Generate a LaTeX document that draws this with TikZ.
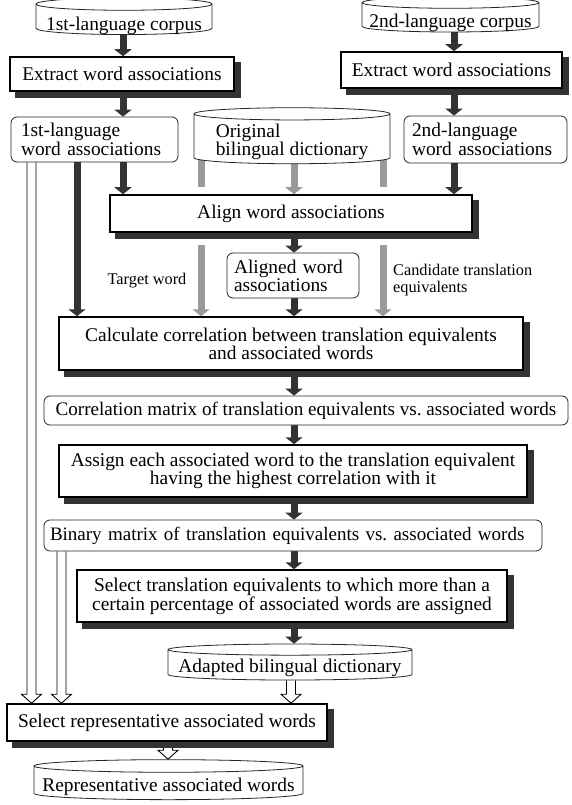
\documentclass[tikz,border=0pt]{standalone}
\usepackage{fontspec}
\setmainfont{Liberation Serif}
\usetikzlibrary{arrows.meta, positioning, shapes.geometric, calc, backgrounds}
\definecolor{fdark}{HTML}{333333}
\definecolor{fgray}{HTML}{9A9A9A}
\newcommand{\mainsz}{\fontsize{19.4pt}{16.5pt}\selectfont\frenchspacing}
\newcommand{\narrowsz}{\fontsize{19pt}{16.5pt}\selectfont\frenchspacing}
\newcommand{\labsz}{\fontsize{16.3pt}{17pt}\selectfont}
% text set lower inside a drum, keeping its size
\newcommand{\lowered}[2]{\raisebox{-#1}[\height][\depth]{#2}}
\tikzset{
  procbox/.style={draw=black, line width=1.5pt, fill=white, inner sep=0pt,
                  align=center, font=\mainsz},
  databox/.style={draw=black!85, line width=0.8pt, rounded corners=6pt, fill=white,
                  inner sep=0pt, align=left, font=\mainsz},
  storebox/.style={cylinder, shape border rotate=90, draw=black!85,
                   line width=0.8pt, fill=white, inner sep=0pt, font=\mainsz},
  lab/.style={inner sep=0pt, font=\labsz},
  darr/.style={-{Triangle[length=7pt, width=17pt]}, line width=7pt, fdark},
  garr/.style={-{Triangle[length=7pt, width=17pt]}, line width=7pt, fgray},
  gbar/.style={line width=7pt, fgray},
  hollow/.style={draw=black, fill=white, line width=0.9pt, line join=miter},
}
% hollow arrow between two points on one vertical line
\newcommand{\hollowarrow}[2]{%
  \draw[hollow] ($(#1)+(-4.5,0)$) -- ($(#2)+(-4.5,-9)$) -- ($(#2)+(-10,-9)$) -- (#2)
    -- ($(#2)+(10,-9)$) -- ($(#2)+(4.5,-9)$) -- ($(#1)+(4.5,0)$);}
% dark block behind a process box
\newcommand{\boxshadow}[1]{%
  \fill[fdark] ($(#1.south west)+(6pt,-6pt)$) rectangle ($(#1.north east)+(6pt,-6pt)$);}

\begin{document}
\begin{tikzpicture}[x=1pt, y=-1pt]
  \useasboundingbox (0,0) rectangle (571,805);

  % 1st language branch
  \node[storebox, aspect=0.08, minimum width=176pt, minimum height=35pt] (corpusA) at (124,19.5)
    {\lowered{6pt}{1st-language corpus}};
  \node[procbox, minimum width=224pt, minimum height=34pt] (extractA) at (122,74) {Extract word associations};
  \node[databox, minimum width=167pt, minimum height=45pt, text width=147pt,
        font=\fontsize{19.4pt}{15pt}\selectfont] (waA) at (94.5,139.5) {1st-language\\word associations};

  % 2nd language branch
  \node[storebox, aspect=0.07, minimum width=177pt, minimum height=31pt] (corpusB) at (450.5,17.5)
    {\lowered{5.5pt}{2nd-language corpus}};
  \node[procbox, minimum width=221pt, minimum height=36pt] (extractB) at (451.5,70) {Extract word associations};
  \node[databox, minimum width=163pt, minimum height=47pt, text width=147pt,
        font=\fontsize{19.4pt}{15pt}\selectfont] (waB) at (485.5,139.5) {2nd-language\\word associations};

  % dictionary and alignment
  \node[storebox, aspect=0.08, minimum width=196pt, minimum height=56pt] (dictO) at (292,139)
    {\lowered{3pt}{\vbox{\baselineskip=16.5pt\hbox{Original}\hbox{bilingual dictionary}}}};
  \node[procbox, minimum width=362pt, minimum height=37pt] (align) at (291,213.5) {Align word associations};
  \node[databox, minimum width=132pt, minimum height=45pt, text width=118pt,
        font=\fontsize{19.4pt}{15pt}\selectfont] (aligned) at (293,275.5) {Aligned word\\associations};
  \node[lab] (tgtlab) at (147,281) {Target word};
  \node[lab, align=left, anchor=west] (candlab) at (393,280.5) {Candidate translation\\equivalents};

  % main column
  \node[procbox, minimum width=464pt, minimum height=53pt,
        font=\fontsize{19.4pt}{18pt}\selectfont] (calc) at (291,343.5)
    {Calculate correlation between translation equivalents\\and associated words};
  \node[databox, minimum width=524pt, minimum height=29pt,
        font=\fontsize{19.1pt}{16.5pt}\selectfont\frenchspacing] (corr) at (306,410.5)
    {Correlation matrix of translation equivalents vs. associated words};
  \node[procbox, minimum width=468pt, minimum height=52pt] (assign) at (293,471)
    {Assign each associated word to the translation equivalent\\having the highest correlation with it};
  \node[databox, minimum width=498pt, minimum height=31pt, text width=486pt, font=\narrowsz] (binary) at (293,535.5)
    {Binary matrix of translation equivalents vs. associated words};
  \node[procbox, minimum width=430pt, minimum height=52pt] (selectTE) at (292,596)
    {Select translation equivalents to which more than a\\certain percentage of associated words are assigned};
  \node[storebox, aspect=0.05, minimum width=244pt, minimum height=36pt] (adapted) at (290,665)
    {\lowered{3pt}{Adapted bilingual dictionary}};
  \node[procbox, minimum width=320pt, minimum height=37pt] (selectRep) at (167,722.5) {Select representative associated words};
  \node[storebox, aspect=0.05, minimum width=269pt, minimum height=40pt] (repr) at (168.5,783)
    {\lowered{3.5pt}{Representative associated words}};

  % columns of the connectors
  \coordinate (xA) at (123,0);
  \coordinate (xB) at (454,0);
  \coordinate (xM) at (294,0);
  \coordinate (xW) at (77,0);
  \coordinate (xT) at (201,0);
  \coordinate (xC) at (383,0);
  \coordinate (xH1) at (31.5,0);
  \coordinate (xH2) at (61.5,0);
  \coordinate (xH3) at (291,0);
  \coordinate (xH4) at (168,0);
  \coordinate (tgtStop) at (201,187);
  \coordinate (tgtGo) at (201,245);
  \coordinate (candStop) at (383,187);
  \coordinate (candGo) at (383,245);

  \begin{scope}[on background layer]
    \fill[white] (0,0) rectangle (571,805);
    \draw[darr] (corpusA.south -| xA) -- (extractA.north -| xA);
    \draw[darr] (extractA.south -| xA) -- (waA.north -| xA);
    \draw[darr] (waA.south -| xA) -- (align.north -| xA);
    \draw[darr] (waA.south -| xW) -- (calc.north -| xW);
    \draw[darr] (corpusB.south -| xB) -- (extractB.north -| xB);
    \draw[darr] (extractB.south -| xB) -- (waB.north -| xB);
    \draw[darr] (waB.south -| xB) -- (align.north -| xB);
    \draw[garr] (dictO.center -| xM) -- (align.north -| xM);
    \draw[gbar] (dictO.center -| xT) -- (tgtStop);
    \draw[gbar] (dictO.center -| xC) -- (candStop);
    \draw[garr] (tgtGo) -- (calc.north -| xT);
    \draw[garr] (candGo) -- (calc.north -| xC);
    \draw[darr] (align.south -| xM) -- (aligned.north -| xM);
    \draw[darr] (aligned.south -| xM) -- (calc.north -| xM);
    \draw[darr] (calc.south -| xM) -- (corr.north -| xM);
    \draw[darr] (corr.south -| xM) -- (assign.north -| xM);
    \draw[darr] (assign.south -| xM) -- (binary.north -| xM);
    \draw[darr] (binary.south -| xM) -- (selectTE.north -| xM);
    \draw[darr] (selectTE.south -| xM) -- (adapted.north -| xM);
    \hollowarrow{waA.south -| xH1}{selectRep.north -| xH1}
    \hollowarrow{binary.south -| xH2}{selectRep.north -| xH2}
    \hollowarrow{adapted.south -| xH3}{selectRep.north -| xH3}
    \hollowarrow{selectRep.south -| xH4}{repr.north -| xH4}
    \foreach \n in {extractA, extractB, align, calc, assign, selectTE, selectRep}
      {\boxshadow{\n}}
  \end{scope}
\end{tikzpicture}
\end{document}
